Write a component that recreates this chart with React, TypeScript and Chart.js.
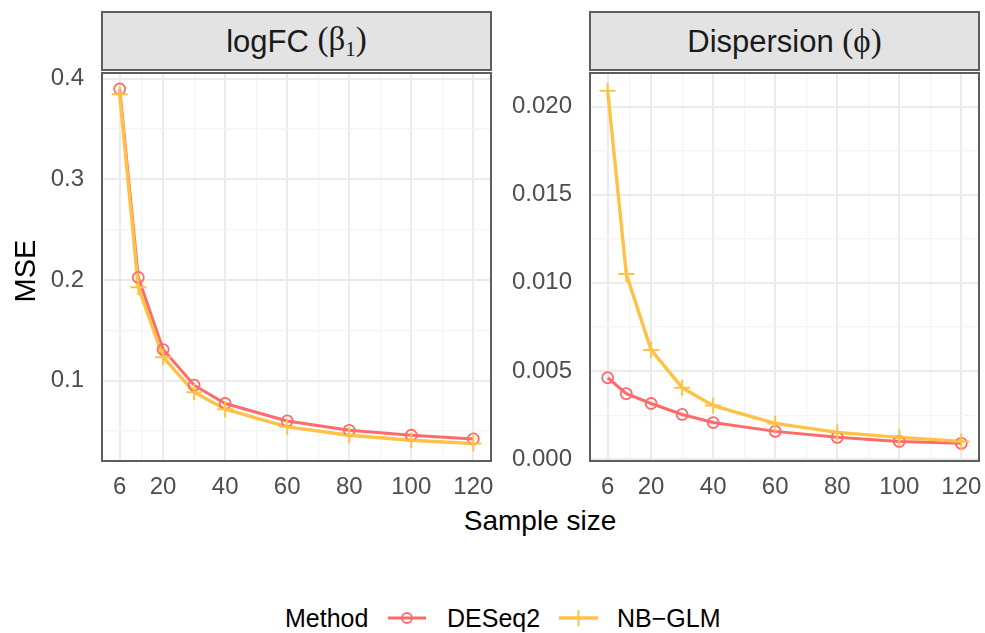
import React, { useEffect, useRef } from "react";
import { Chart, registerables } from "chart.js";

Chart.register(...registerables);

// ---- data ----
const sampleSizes = [6, 12, 20, 30, 40, 60, 80, 100, 120];
const logfcDESeq2 = [0.3896, 0.2024, 0.1308, 0.0954, 0.0772, 0.0599, 0.0506, 0.0457, 0.042];
const logfcNBGLM = [0.3843, 0.1928, 0.1232, 0.0884, 0.0715, 0.054, 0.0457, 0.0407, 0.0374];
const dispDESeq2 = [0.00462, 0.00372, 0.00316, 0.00254, 0.00208, 0.00158, 0.00124, 0.00101, 0.0009];
const dispNBGLM = [0.0209, 0.0105, 0.0062, 0.00406, 0.00304, 0.00203, 0.00152, 0.00124, 0.00101];

const xMajorTicks = [6, 20, 40, 60, 80, 100, 120];
const xMinorTicks = [13, 30, 50, 70, 90, 110];
const logfcMajorTicks = [0.1, 0.2, 0.3, 0.4];
const logfcMinorTicks = [0.05, 0.15, 0.25, 0.35];
const dispMajorTicks = [0, 0.005, 0.01, 0.015, 0.02];
const dispMinorTicks = [0.0025, 0.0075, 0.0125, 0.0175];

const methods = ["DESeq2", "NB\u2212GLM"];
const RED = "#FF6B6B";
const ORANGE = "#FFC247";
const BORDER = "#5E5E5E";
const FONT = "'Liberation Sans', Arial, Helvetica, sans-serif";

const panelBorder = {
  id: "panelBorder",
  afterDraw(chart: any) {
    const { ctx, chartArea: a } = chart;
    ctx.save();
    ctx.strokeStyle = BORDER;
    ctx.lineWidth = 2;
    ctx.strokeRect(a.left, a.top, a.right - a.left, a.bottom - a.top);
    ctx.restore();
  },
};

function isIn(list: number[], v: number) {
  return list.some((m) => Math.abs(m - v) < 1e-9);
}

type PanelProps = {
  left: number;
  width: number;
  height: number;
  yWidth: number;
  padRight: number;
  yMin: number;
  yMax: number;
  yMajor: number[];
  yMinor: number[];
  digits: number;
  red: number[];
  orange: number[];
};

function Panel(p: PanelProps) {
  const ref = useRef<HTMLCanvasElement | null>(null);
  useEffect(() => {
    if (!ref.current) return;
    const pts = (vals: number[]) => sampleSizes.map((x, i) => ({ x, y: vals[i] }));
    const chart = new Chart(ref.current, {
      type: "line",
      data: {
        datasets: [
          {
            label: methods[1] + " points",
            data: pts(p.orange),
            showLine: false,
            pointStyle: "cross",
            pointRadius: 8,
            pointBorderWidth: 2,
            pointBorderColor: ORANGE,
            pointBackgroundColor: ORANGE,
            borderColor: ORANGE,
            order: 0,
          },
          {
            label: methods[0] + " points",
            data: pts(p.red),
            showLine: false,
            pointStyle: "circle",
            pointRadius: 5.5,
            pointBorderWidth: 1.8,
            pointBorderColor: RED,
            pointBackgroundColor: "rgba(0,0,0,0)",
            borderColor: RED,
            order: 1,
          },
          {
            label: methods[1],
            data: pts(p.orange),
            borderColor: ORANGE,
            borderWidth: 3.4,
            pointRadius: 0,
            tension: 0,
            order: 2,
          },
          {
            label: methods[0],
            data: pts(p.red),
            borderColor: RED,
            borderWidth: 3,
            pointRadius: 0,
            tension: 0,
            order: 3,
          },
        ],
      },
      options: {
        animation: false,
        responsive: false,
        devicePixelRatio: 1,
        layout: { autoPadding: false, padding: { top: 73, right: p.padRight, left: 0, bottom: 0 } },
        plugins: { legend: { display: false }, tooltip: { enabled: false }, title: { display: false } },
        scales: {
          x: {
            type: "linear",
            min: 0.3,
            max: 125.7,
            afterBuildTicks: (s: any) => {
              s.ticks = [...xMajorTicks, ...xMinorTicks].sort((a, b) => a - b).map((v) => ({ value: v }));
            },
            afterFit: (s: any) => {
              s.height = 39;
              s.paddingLeft = 0;
              s.paddingRight = 0;
            },
            ticks: {
              autoSkip: false,
              maxRotation: 0,
              padding: 12,
              color: "#4D4D4D",
              font: { family: FONT, size: 24 },
              callback: (v: any) => (isIn(xMajorTicks, Number(v)) ? String(v) : ""),
            },
            grid: {
              drawTicks: false,
              color: (c: any) => (isIn(xMajorTicks, c.tick.value) ? "#EBEBEB" : "#F4F4F4"),
              lineWidth: (c: any) => (isIn(xMajorTicks, c.tick.value) ? 2 : 1.2),
            },
            border: { display: false },
          },
          y: {
            type: "linear",
            min: p.yMin,
            max: p.yMax,
            afterBuildTicks: (s: any) => {
              s.ticks = [...p.yMajor, ...p.yMinor].sort((a, b) => a - b).map((v) => ({ value: v }));
            },
            afterFit: (s: any) => {
              s.width = p.yWidth;
              s.paddingTop = 0;
              s.paddingBottom = 0;
            },
            ticks: {
              autoSkip: false,
              padding: 18,
              color: "#4D4D4D",
              font: { family: FONT, size: 24 },
              callback: (v: any) => (isIn(p.yMajor, Number(v)) ? Number(v).toFixed(p.digits) : ""),
            },
            grid: {
              drawTicks: false,
              color: (c: any) => (isIn(p.yMajor, c.tick.value) ? "#EBEBEB" : "#F4F4F4"),
              lineWidth: (c: any) => (isIn(p.yMajor, c.tick.value) ? 2 : 1.2),
            },
            border: { display: false },
          },
        },
      },
      plugins: [panelBorder],
    } as any);
    return () => chart.destroy();
  }, []);
  return (
    <canvas
      ref={ref}
      width={p.width}
      height={p.height}
      style={{ position: "absolute", left: p.left, top: 0, width: p.width, height: p.height }}
    />
  );
}

function Strip({ left, children }: { left: number; children: any }) {
  return (
    <div
      style={{
        position: "absolute",
        left,
        top: 11,
        width: 391,
        height: 60,
        boxSizing: "border-box",
        border: `2px solid ${BORDER}`,
        background: "#E3E3E3",
        display: "flex",
        alignItems: "center",
        justifyContent: "center",
        fontFamily: FONT,
        fontSize: 31,
        color: "#1A1A1A",
        whiteSpace: "nowrap",
        lineHeight: "31px",
      }}
    >
      {children}
    </div>
  );
}

const serif: React.CSSProperties = { fontFamily: "'Liberation Serif', 'DejaVu Serif', serif", fontSize: 33 };

export default function App() {
  return (
    <div
      style={{
        position: "absolute",
        left: 0,
        top: 0,
        width: 985,
        height: 633,
        background: "#FFFFFF",
        overflow: "hidden",
      }}
    >
      <Panel
        left={0}
        width={495}
        height={500}
        yWidth={102}
        padRight={4}
        yMin={0.0201}
        yMax={0.4055}
        yMajor={logfcMajorTicks}
        yMinor={logfcMinorTicks}
        digits={1}
        red={logfcDESeq2}
        orange={logfcNBGLM}
      />
      <Panel
        left={495}
        width={490}
        height={500}
        yWidth={95}
        padRight={6}
        yMin={-0.0001}
        yMax={0.0219}
        yMajor={dispMajorTicks}
        yMinor={dispMinorTicks}
        digits={3}
        red={dispDESeq2}
        orange={dispNBGLM}
      />
      <Strip left={101}>
        <span>logFC&nbsp;</span>
        <span style={serif}>
          (β<span style={{ fontSize: 21, position: "relative", top: 6 }}>1</span>)
        </span>
      </Strip>
      <Strip left={589}>
        <span>Dispersion&nbsp;</span>
        <span style={serif}>(ϕ)</span>
      </Strip>
      <div
        style={{
          position: "absolute",
          left: 25 - 50,
          top: 271 - 15,
          width: 100,
          height: 30,
          lineHeight: "30px",
          textAlign: "center",
          transform: "rotate(-90deg)",
          fontFamily: FONT,
          fontSize: 29,
          color: "#000",
        }}
      >
        MSE
      </div>
      <div
        style={{
          position: "absolute",
          left: 340,
          top: 521 - 15,
          width: 400,
          height: 30,
          lineHeight: "30px",
          textAlign: "center",
          fontFamily: FONT,
          fontSize: 28,
          color: "#000",
        }}
      >
        Sample size
      </div>
      <div
        style={{
          position: "absolute",
          left: 0,
          top: 618 - 13,
          width: 985,
          height: 26,
          fontFamily: FONT,
          fontSize: 25,
          lineHeight: "26px",
          color: "#000",
        }}
      >
        <span style={{ position: "absolute", left: 285, top: 0 }}>Method</span>
        <svg style={{ position: "absolute", left: 386, top: 0 }} width={42} height={26}>
          <line x1={2} y1={13} x2={40} y2={13} stroke={RED} strokeWidth={3} />
          <circle cx={21} cy={13} r={5} fill="none" stroke={RED} strokeWidth={1.8} />
        </svg>
        <span style={{ position: "absolute", left: 447, top: 0 }}>{methods[0]}</span>
        <svg style={{ position: "absolute", left: 557, top: 0 }} width={43} height={26}>
          <line x1={2} y1={13} x2={41} y2={13} stroke={ORANGE} strokeWidth={3.4} />
          <line x1={21.5} y1={5} x2={21.5} y2={21} stroke={ORANGE} strokeWidth={2} />
        </svg>
        <span style={{ position: "absolute", left: 617, top: 0 }}>{methods[1]}</span>
      </div>
    </div>
  );
}
